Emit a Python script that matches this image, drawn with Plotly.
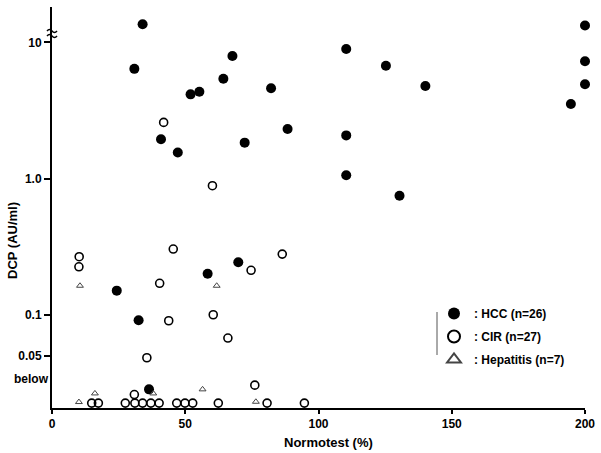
import plotly.graph_objects as go

# ---- data ----
hcc_x = [34.0, 30.9, 52.0, 55.3, 40.9, 47.2, 67.7, 64.3, 82.2, 88.4, 72.3, 110.4, 125.3,
         110.4, 110.4, 130.4, 200, 200, 200, 194.7, 140.1, 24.3, 32.5, 36.4, 58.4, 69.9]
hcc_y = [13.6, 6.4, 4.16, 4.35, 1.95, 1.56, 7.95, 5.42, 4.61, 2.32, 1.84, 8.95, 6.75,
         2.08, 1.06, 0.75, 13.3, 7.27, 4.93, 3.53, 4.79, 0.151, 0.0915, 0.0285, 0.201, 0.244]

cir_x = [41.9, 60.2, 10.2, 10.1, 45.5, 40.4, 43.8, 35.6, 30.9, 86.4, 74.7, 60.5, 66.0, 76.1,
         14.9, 17.4, 27.5, 31.1, 34.0, 37.1, 40.2, 46.8, 49.9, 52.8, 62.4, 80.7, 94.7]
cir_y = [2.59, 0.889, 0.268, 0.226, 0.305, 0.171, 0.0908, 0.0486, 0.0261, 0.280, 0.213, 0.1005,
         0.0678, 0.0306,
         0.0226, 0.0226, 0.0226, 0.0226, 0.0226, 0.0226, 0.0226, 0.0226, 0.0226, 0.0226,
         0.0226, 0.0226, 0.0226]

hep_x = [10.5, 61.8, 10.1, 16.1, 38.0, 56.5, 76.5]
hep_y = [0.164, 0.164, 0.023, 0.0266, 0.0266, 0.0285, 0.0231]

series_names = [": HCC (n=26)", ": CIR (n=27)", ": Hepatitis (n=7)"]

x_tickvals = [0, 50, 100, 150, 200]
x_ticktext = ["0", "50", "100", "150", "200"]
y_tickvals = [0.05, 0.1, 1, 10]
y_ticktext = ["0.05", "0.1", "1.0", "10"]

FONT = "Liberation Sans, Arial, Helvetica, sans-serif"

fig = go.Figure()
fig.add_trace(go.Scatter(x=hcc_x, y=hcc_y, mode="markers", name=series_names[0],
                         legendgroup="a",
                         marker=dict(symbol="circle", size=10, color="black",
                                     line=dict(width=0)), cliponaxis=False))
fig.add_trace(go.Scatter(x=cir_x, y=cir_y, mode="markers", name=series_names[1],
                         legendgroup="b",
                         marker=dict(symbol="circle-open", size=8, color="black",
                                     line=dict(width=1.6)), cliponaxis=False))
fig.add_trace(go.Scatter(x=hep_x, y=hep_y, mode="markers", name=series_names[2],
                         legendgroup="c",
                         marker=dict(symbol="triangle-up-open", size=6, color="#444",
                                     line=dict(width=1)), cliponaxis=False))

W, H = 601, 453
ML, MR, MT, MB = 52, 16, 7, 45
PW, PH = W - ML - MR, H - MT - MB


def px(xp):
    return (xp - ML) / PW


def py(yp):
    return (H - MB - yp) / PH


fig.update_layout(
    width=W, height=H,
    margin=dict(l=ML, r=MR, t=MT, b=MB),
    paper_bgcolor="white", plot_bgcolor="white",
    font=dict(family=FONT, size=12, color="black"),
    showlegend=True,
    legend=dict(x=px(434), y=py(299), xanchor="left", yanchor="top",
                bgcolor="rgba(0,0,0,0)", itemsizing="constant", tracegroupgap=4,
                font=dict(family=FONT, size=12, color="black", weight="bold")),
    xaxis=dict(range=[0, 200], tickvals=x_tickvals, ticktext=x_ticktext,
               showgrid=False, zeroline=False, showline=True, linecolor="black",
               linewidth=2, ticks="outside", ticklen=4, tickwidth=2, tickcolor="black",
               tickfont=dict(family=FONT, size=12, weight="bold")),
    yaxis=dict(type="log", range=[-1.682, 1.26], tickvals=y_tickvals, ticktext=y_ticktext,
               showgrid=False, zeroline=False, showline=True, linecolor="black",
               linewidth=2, ticks="outside", ticklen=6, tickwidth=2, tickcolor="black",
               tickfont=dict(family=FONT, size=12, weight="bold")),
    annotations=[
        dict(text="Normotest (%)", xref="paper", yref="paper", x=px(328), y=py(442),
             showarrow=False, xanchor="center", yanchor="middle",
             font=dict(family=FONT, size=13, weight="bold")),
        dict(text="DCP (AU/ml)", xref="paper", yref="paper", x=px(12), y=py(240),
             showarrow=False, textangle=-90, xanchor="center", yanchor="middle",
             font=dict(family=FONT, size=13, weight="bold")),
        dict(text="below", xref="paper", yref="paper", x=px(32), y=py(379),
             showarrow=False, xanchor="center", yanchor="middle",
             font=dict(family=FONT, size=12, weight="bold")),
    ],
)

# axis break squiggle on the y axis
shapes = []
for yb in (31, 36):
    path = (f"M {px(47)} {py(yb)} Q {px(49.5)} {py(yb - 3)} {px(52)} {py(yb)} "
            f"Q {px(54.5)} {py(yb + 3)} {px(57)} {py(yb)}")
    shapes.append(dict(type="path", path=path, xref="paper", yref="paper",
                       line=dict(color="black", width=1.5)))
# faint vertical stroke beside the legend (scan artifact)
shapes.append(dict(type="line", xref="paper", yref="paper", x0=px(437), x1=px(437),
                   y0=py(312), y1=py(355), line=dict(color="#555", width=1)))
fig.update_layout(shapes=shapes)

fig.write_html("out.html", config={"displayModeBar": False},
               post_script="document.body.style.margin='0';")
